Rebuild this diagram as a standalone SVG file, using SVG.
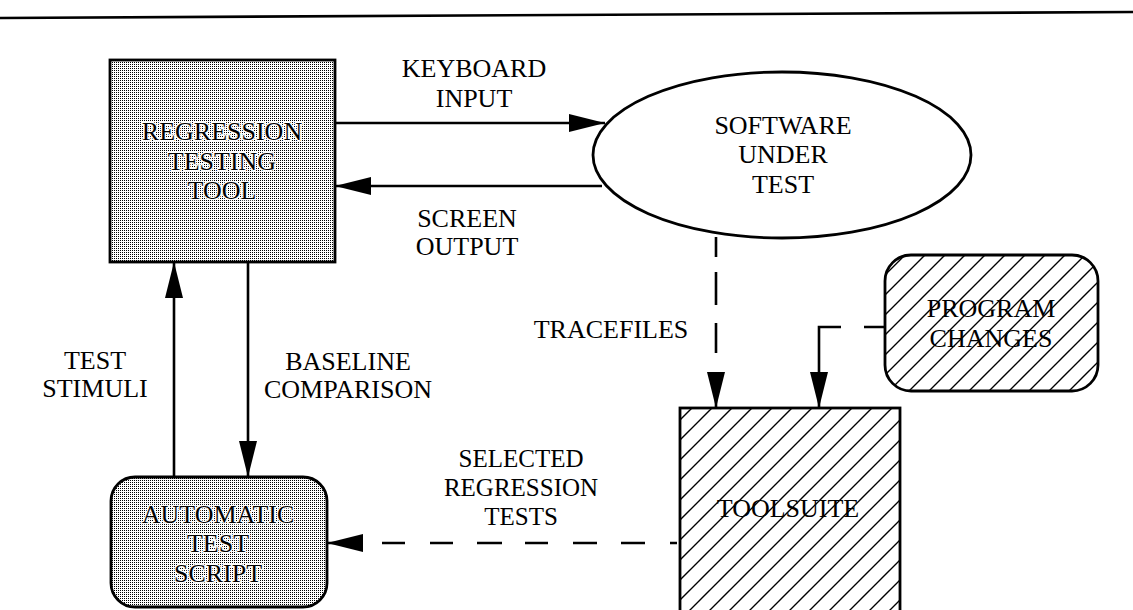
<svg xmlns="http://www.w3.org/2000/svg" width="1133" height="610" viewBox="0 0 1133 610">
<style>
text{font-family:"Liberation Serif","Times New Roman",serif;font-size:26px;fill:#000;text-anchor:middle}
.halo{stroke:#fff;stroke-width:2.5;paint-order:stroke;stroke-linejoin:round}
.sm{font-size:25px}
.box{stroke:#000;stroke-width:2.8}
.ln{fill:none;stroke:#000;stroke-width:2.6}
</style>
<defs>
<pattern id="dots" width="2" height="2" patternUnits="userSpaceOnUse">
<rect width="2" height="2" fill="#fff"/>
<rect width="1" height="1" fill="#000"/>
</pattern>
<pattern id="hatch" width="20" height="20" patternUnits="userSpaceOnUse">
<rect width="20" height="20" fill="#fff"/>
<path d="M-5,5 L5,-5 M0,20 L20,0 M15,25 L25,15" stroke="#000" stroke-width="1.4"/>
</pattern>
<marker id="ah" viewBox="0 0 36 18" refX="36" refY="9" markerWidth="36" markerHeight="18" markerUnits="userSpaceOnUse" orient="auto">
<path d="M0,0 L36,9 L0,18 z" fill="#000"/>
</marker>
</defs>
<line x1="0" y1="18" x2="1133" y2="12" stroke="#000" stroke-width="2.6"/>
<g id="regression-testing-tool">
<rect class="box" x="110" y="60" width="225" height="202" fill="url(#dots)"/>
<text class="halo" x="222" y="140">REGRESSION</text>
<text class="halo" x="222" y="170">TESTING</text>
<text class="halo" x="222" y="199">TOOL</text>
</g>
<g id="software-under-test">
<ellipse class="box" cx="782" cy="155" rx="189" ry="83" fill="#fff"/>
<text x="783" y="134">SOFTWARE</text>
<text x="783" y="163">UNDER</text>
<text x="783" y="193">TEST</text>
</g>
<g id="program-changes">
<rect class="box" x="885" y="255" width="213" height="136" rx="26" fill="url(#hatch)"/>
<text x="991" y="317">PROGRAM</text>
<text x="991" y="347">CHANGES</text>
</g>
<g id="toolsuite">
<rect class="box" x="680" y="408" width="220" height="215" fill="url(#hatch)"/>
<text x="788" y="517">TOOLSUITE</text>
</g>
<g id="automatic-test-script">
<rect class="box" x="111" y="477" width="216" height="130" rx="24" fill="url(#dots)"/>
<text class="halo" x="218" y="523">AUTOMATIC</text>
<text class="halo" x="218" y="552">TEST</text>
<text class="halo" x="218" y="582">SCRIPT</text>
</g>
<g id="connectors">
<path class="ln" d="M335,123 H605" marker-end="url(#ah)"/>
<path class="ln" d="M602,186 H335" marker-end="url(#ah)"/>
<path class="ln" d="M174,477 V262" marker-end="url(#ah)"/>
<path class="ln" d="M248,262 V477" marker-end="url(#ah)"/>
<path class="ln" d="M716,237 V408" stroke-dasharray="20 15 33 18 30 20 60" marker-end="url(#ah)"/>
<path class="ln" d="M885,327 H819 V408" stroke-dasharray="21 23 300" marker-end="url(#ah)"/>
<path class="ln" d="M677,543 H327" stroke-dasharray="7 25 24 24 24 25 23 23 25 24 23 25 23 25 40" marker-end="url(#ah)"/>
</g>
<g id="labels">
<text x="474" y="77">KEYBOARD</text>
<text x="474" y="107">INPUT</text>
<text x="467" y="227">SCREEN</text>
<text x="467" y="255">OUTPUT</text>
<text x="95" y="369">TEST</text>
<text x="95" y="397">STIMULI</text>
<text x="348" y="370">BASELINE</text>
<text x="348" y="398">COMPARISON</text>
<text x="611" y="338">TRACEFILES</text>
<text class="sm" x="521" y="467">SELECTED</text>
<text class="sm" x="521" y="496">REGRESSION</text>
<text class="sm" x="521" y="525">TESTS</text>
</g>
</svg>
